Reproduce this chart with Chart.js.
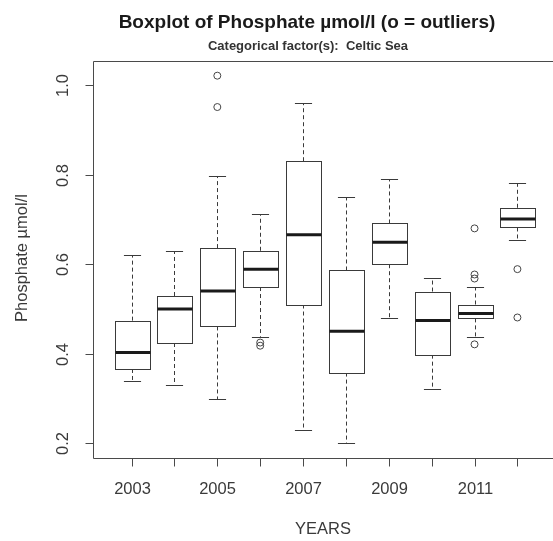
<!DOCTYPE html>
<html lang="en">
<head>
  <meta charset="UTF-8">
  <title>Boxplot of Phosphate</title>
  <script src="https://cdn.jsdelivr.net/npm/chart.js"></script>
  <style>
    html, body {
      margin: 0;
      padding: 0;
      background: #fff;
      overflow: hidden;
    }
    #wrap {
      width: 570px;
      height: 541px;
    }
  </style>
</head>
<body>
  <div id="wrap">
    <canvas id="boxChart" width="570" height="541"></canvas>
  </div>

  <script>
    // Years (one box per year)
    const years = ['2003', '2004', '2005', '2006', '2007', '2008', '2009', '2010', '2011', '2012'];
    // Only every other year gets a label, as in the original R output
    const yearLabels = ['2003', '', '2005', '', '2007', '', '2009', '', '2011', ''];

    // Box statistics per year (µmol/l)
    const whiskerLow  = [0.340, 0.330, 0.299, 0.438, 0.230, 0.200, 0.479, 0.321, 0.438, 0.655];
    const quart1      = [0.366, 0.424, 0.461, 0.549, 0.510, 0.358, 0.600, 0.398, 0.479, 0.682];
    const medians     = [0.403, 0.500, 0.540, 0.589, 0.666, 0.450, 0.649, 0.474, 0.490, 0.701];
    const quart3      = [0.474, 0.529, 0.636, 0.630, 0.830, 0.586, 0.691, 0.539, 0.510, 0.726];
    const whiskerHigh = [0.620, 0.629, 0.797, 0.711, 0.959, 0.749, 0.790, 0.569, 0.549, 0.781];

    // Outliers, keyed by year index
    const outliers = [
      [], [], [1.021, 0.951], [0.425, 0.418], [], [], [], [],
      [0.680, 0.577, 0.568, 0.421], [0.589, 0.481]
    ];

    const yTicks = [0.2, 0.4, 0.6, 0.8, 1.0];

    const titleText = 'Boxplot of Phosphate µmol/l (o = outliers)';
    const subTitleText = 'Categorical factor(s):  Celtic Sea';
    const xTitle = 'YEARS';
    const yTitle = 'Phosphate µmol/l';

    const FONT = '"Liberation Sans", Arial, Helvetica, sans-serif';
    const LINE = '#3a3a3a';

    // Flatten the outliers into scatter points
    const outlierPoints = [];
    outliers.forEach((vals, i) => {
      vals.forEach(v => outlierPoints.push({ x: i + 1, y: v }));
    });

    // Draws boxes, whiskers, frame, axes and titles using the chart scales
    const boxplotPlugin = {
      id: 'boxplot',
      beforeDatasetsDraw(chart) {
        const ctx = chart.ctx;
        const xs = chart.scales.x;
        const ys = chart.scales.y;
        const unit = xs.getPixelForValue(1) - xs.getPixelForValue(0);
        const halfBox = unit * 0.4;
        const halfCap = unit * 0.2;

        ctx.save();
        ctx.strokeStyle = LINE;
        ctx.lineWidth = 1;

        years.forEach((yr, i) => {
          const cx = Math.round(xs.getPixelForValue(i + 1)) + 0.5;
          const yLo = ys.getPixelForValue(whiskerLow[i]);
          const yQ1 = ys.getPixelForValue(quart1[i]);
          const yMed = ys.getPixelForValue(medians[i]);
          const yQ3 = ys.getPixelForValue(quart3[i]);
          const yHi = ys.getPixelForValue(whiskerHigh[i]);

          // dashed whiskers
          ctx.setLineDash([4, 3]);
          ctx.beginPath();
          ctx.moveTo(cx, yQ3);
          ctx.lineTo(cx, yHi);
          ctx.moveTo(cx, yQ1);
          ctx.lineTo(cx, yLo);
          ctx.stroke();
          ctx.setLineDash([]);

          // staples
          ctx.beginPath();
          ctx.moveTo(cx - halfCap, Math.round(yHi) + 0.5);
          ctx.lineTo(cx + halfCap, Math.round(yHi) + 0.5);
          ctx.moveTo(cx - halfCap, Math.round(yLo) + 0.5);
          ctx.lineTo(cx + halfCap, Math.round(yLo) + 0.5);
          ctx.stroke();

          // box
          const left = Math.round(cx - halfBox) + 0.5;
          const right = Math.round(cx + halfBox) + 0.5;
          ctx.fillStyle = '#fff';
          ctx.fillRect(left, Math.round(yQ3) + 0.5, right - left, Math.round(yQ1) - Math.round(yQ3));
          ctx.strokeRect(left, Math.round(yQ3) + 0.5, right - left, Math.round(yQ1) - Math.round(yQ3));

          // median
          ctx.lineWidth = 3;
          ctx.strokeStyle = '#1a1a1a';
          ctx.beginPath();
          ctx.moveTo(left, yMed);
          ctx.lineTo(right, yMed);
          ctx.stroke();
          ctx.lineWidth = 1;
          ctx.strokeStyle = LINE;
        });
        ctx.restore();
      },
      afterDraw(chart) {
        const ctx = chart.ctx;
        const xs = chart.scales.x;
        const ys = chart.scales.y;
        const area = chart.chartArea;

        ctx.save();
        ctx.strokeStyle = '#4a4a4a';
        ctx.lineWidth = 1;

        // plot frame: top, left and bottom (right side runs off the page)
        const L = Math.round(area.left) + 0.5;
        const T = Math.round(area.top) + 0.5;
        const B = Math.round(area.bottom) + 0.5;
        const R = chart.width;
        ctx.beginPath();
        ctx.moveTo(R, T);
        ctx.lineTo(L, T);
        ctx.lineTo(L, B);
        ctx.lineTo(R, B);
        ctx.stroke();

        // y axis ticks + rotated labels
        ctx.fillStyle = '#3a3a3a';
        ctx.font = '16.5px ' + FONT;
        ctx.textAlign = 'center';
        ctx.textBaseline = 'middle';
        yTicks.forEach(v => {
          const py = Math.round(ys.getPixelForValue(v)) + 0.5;
          ctx.beginPath();
          ctx.moveTo(L, py);
          ctx.lineTo(L - 8, py);
          ctx.stroke();
          ctx.save();
          ctx.translate(63, py);
          ctx.rotate(-Math.PI / 2);
          ctx.fillText(v.toFixed(1), 0, 0);
          ctx.restore();
        });

        // x axis ticks + labels
        years.forEach((yr, i) => {
          const px = Math.round(xs.getPixelForValue(i + 1)) + 0.5;
          ctx.beginPath();
          ctx.moveTo(px, B);
          ctx.lineTo(px, B + 8);
          ctx.stroke();
          if (yearLabels[i]) {
            ctx.fillText(yearLabels[i], px, 489);
          }
        });

        // axis titles
        ctx.font = '16.5px ' + FONT;
        ctx.fillText(xTitle, 323, 529);
        ctx.save();
        ctx.translate(22, 258);
        ctx.rotate(-Math.PI / 2);
        ctx.fillText(yTitle, 0, 0);
        ctx.restore();

        // main title and subtitle
        ctx.fillStyle = '#1a1a1a';
        ctx.font = 'bold 19px ' + FONT;
        ctx.fillText(titleText, 307, 23);
        ctx.fillStyle = '#333';
        ctx.font = 'bold 13px ' + FONT;
        ctx.fillText(subTitleText, 308, 46);
        ctx.restore();
      }
    };

    new Chart(document.getElementById('boxChart'), {
      type: 'scatter',
      data: {
        datasets: [{
          label: 'outliers',
          data: outlierPoints,
          pointStyle: 'circle',
          pointRadius: 3.5,
          pointBorderWidth: 1,
          pointBorderColor: '#444',
          pointBackgroundColor: 'rgba(0,0,0,0)'
        }]
      },
      options: {
        responsive: false,
        animation: false,
        layout: {
          padding: { left: 93, right: 14, top: 61, bottom: 83 }
        },
        scales: {
          x: { type: 'linear', min: 0.1, max: 10.9, display: false },
          y: { type: 'linear', min: 0.1672, max: 1.0538, display: false }
        },
        plugins: {
          legend: { display: false },
          tooltip: { enabled: false }
        }
      },
      plugins: [boxplotPlugin]
    });
  </script>
</body>
</html>
